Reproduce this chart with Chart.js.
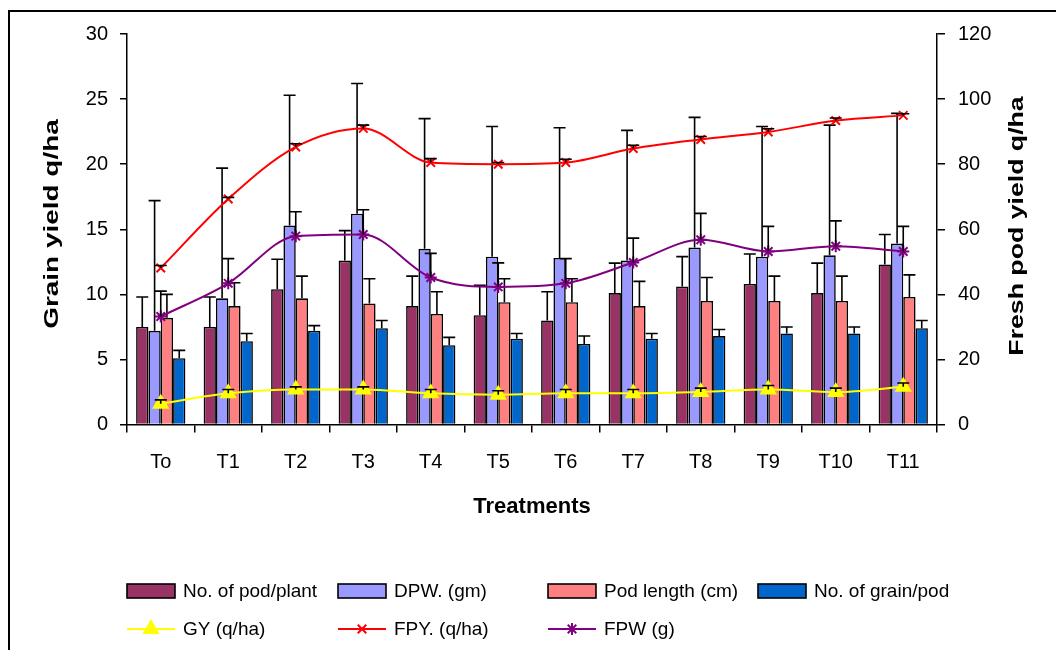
<!DOCTYPE html>
<html>
<head>
<meta charset="utf-8">
<script src="https://cdn.jsdelivr.net/npm/chart.js@4.4.0/dist/chart.umd.min.js"></script>
<style>
  html, body { margin: 0; padding: 0; background: #fff; }
  #wrap { position: relative; width: 1056px; height: 650px; overflow: hidden; }
  #frame { position: absolute; left: 8px; top: 10px; width: 1100px; height: 700px;
           border-left: 2px solid #000; border-top: 2px solid #000; }
  canvas { position: absolute; left: 0; top: 0; }
</style>
</head>
<body>
<div id="wrap"><div id="frame"></div><canvas id="chart" width="1056" height="650"></canvas></div>
<script>
// treatments
const categories = ['To', 'T1', 'T2', 'T3', 'T4', 'T5', 'T6', 'T7', 'T8', 'T9', 'T10', 'T11'];

// bars, left axis
const podPerPlant    = [7.5, 7.5, 10.4, 12.6, 9.1, 8.4, 8.0, 10.1, 10.6, 10.8, 10.1, 12.3];
const podPerPlantErr = [2.3, 2.3, 2.3, 2.3, 2.3, 2.3, 2.2, 2.3, 2.3, 2.3, 2.3, 2.3];
const dpw            = [7.2, 9.7, 15.3, 16.2, 13.5, 12.9, 12.8, 12.6, 13.6, 12.9, 13.0, 13.9];
const dpwErr         = [10.0, 10.0, 10.0, 10.0, 10.0, 10.0, 10.0, 10.0, 10.0, 10.0, 10.0, 10.0];
const podLength      = [8.2, 9.1, 9.7, 9.3, 8.5, 9.4, 9.4, 9.1, 9.5, 9.5, 9.5, 9.8];
const podLengthErr   = [1.8, 1.8, 1.7, 1.9, 1.7, 1.8, 1.8, 1.9, 1.8, 1.9, 1.9, 1.7];
const grainPerPod    = [5.1, 6.4, 7.2, 7.4, 6.1, 6.6, 6.2, 6.6, 6.8, 7.0, 7.0, 7.4];
const grainPerPodErr = [0.6, 0.6, 0.4, 0.6, 0.6, 0.4, 0.6, 0.4, 0.5, 0.5, 0.5, 0.6];

// lines
const gy     = [1.6, 2.4, 2.7, 2.7, 2.4, 2.3, 2.4, 2.4, 2.5, 2.7, 2.5, 2.9];        // left axis
const gyErr  = [0.3, 0.3, 0.2, 0.2, 0.3, 0.3, 0.3, 0.3, 0.3, 0.3, 0.3, 0.3];
const fpy    = [48.1, 69.3, 85.3, 91.0, 80.5, 80.0, 80.5, 84.8, 87.6, 89.9, 93.4, 95.0]; // right axis
const fpyErr = [0.8, 0.5, 1.0, 1.0, 1.2, 0.5, 1.0, 1.0, 0.9, 1.0, 0.8, 0.5];
const fpw    = [33.2, 43.4, 57.9, 58.4, 45.2, 42.3, 43.4, 49.8, 56.8, 53.2, 54.8, 53.2]; // right axis
const fpwErr = [7.8, 7.6, 7.5, 7.6, 7.4, 7.4, 7.6, 7.5, 8.1, 7.7, 7.8, 7.7];

const FONT = '"Liberation Sans", Arial, sans-serif';
Chart.defaults.font.family = FONT;
Chart.defaults.color = '#000';

// draws + error bars for any dataset that carries an "errors" array
const errorBars = {
  id: 'errorBars',
  afterDatasetDraw(chart, args) {
    const ds = chart.data.datasets[args.index];
    if (!ds.errors) return;
    const meta = args.meta;
    const scale = chart.scales[meta.yAxisID];
    const ctx = chart.ctx;
    ctx.save();
    ctx.strokeStyle = '#000';
    ctx.lineWidth = 1.6;
    meta.data.forEach((el, i) => {
      const top = scale.getPixelForValue(ds.data[i] + ds.errors[i]);
      ctx.beginPath();
      ctx.moveTo(el.x, el.y);
      ctx.lineTo(el.x, top);
      ctx.moveTo(el.x - 6, top);
      ctx.lineTo(el.x + 6, top);
      ctx.stroke();
    });
    ctx.restore();
  }
};

// vertical axis titles (both read bottom to top) and the two-row legend
const extras = {
  id: 'extras',
  afterDraw(chart) {
    const ctx = chart.ctx;
    const vTitle = (text, x, y, stretch) => {
      ctx.save();
      ctx.translate(x, y);
      ctx.rotate(-Math.PI / 2);
      ctx.scale(stretch, 1);
      ctx.font = 'bold 21px ' + FONT;
      ctx.fillStyle = '#000';
      ctx.textAlign = 'center';
      ctx.textBaseline = 'middle';
      ctx.fillText(text, 0, 0);
      ctx.restore();
    };
    vTitle('Grain yield q/ha', 52, 224, 1.33);
    vTitle('Fresh pod yield q/ha', 1017, 226, 1.27);

    const cols = [127, 338, 548, 758];
    const rows = [591, 629];
    let bi = 0, li = 0;
    ctx.save();
    ctx.font = '19px ' + FONT;
    ctx.textBaseline = 'middle';
    chart.data.datasets.forEach(ds => {
      let x, y;
      if (ds.type === 'line') {
        x = cols[li++]; y = rows[1];
        ctx.strokeStyle = ds.borderColor;
        ctx.lineWidth = 2;
        ctx.beginPath();
        ctx.moveTo(x, y);
        ctx.lineTo(x + 48, y);
        ctx.stroke();
        ctx.fillStyle = ds.pointBackgroundColor;
        ctx.strokeStyle = ds.pointBorderColor;
        ctx.lineWidth = 2;
        Chart.helpers.drawPoint(ctx, { pointStyle: ds.pointStyle, radius: ds.pointRadius, rotation: 0, borderWidth: 2 }, x + 24, y);
      } else {
        x = cols[bi++]; y = rows[0];
        ctx.fillStyle = ds.backgroundColor;
        ctx.fillRect(x, y - 7, 48, 14);
        ctx.strokeStyle = '#000';
        ctx.lineWidth = 1.6;
        ctx.strokeRect(x, y - 7, 48, 14);
      }
      ctx.fillStyle = '#000';
      ctx.fillText(ds.label, x + 56, y + 1);
    });
    ctx.restore();
  }
};

const barSet = (label, data, errors, color) => ({
  type: 'bar', label, data, errors, yAxisID: 'y', order: 1,
  backgroundColor: color, borderColor: '#000', borderWidth: 1.6,
  categoryPercentage: 0.73, barPercentage: 1.0
});
const lineSet = (label, data, errors, color, axis, style, radius) => ({
  type: 'line', label, data, errors, yAxisID: axis, order: 0,
  borderColor: color, borderWidth: 2, cubicInterpolationMode: 'monotone',
  pointStyle: style, pointRadius: radius, pointBorderWidth: 2,
  pointBackgroundColor: color, pointBorderColor: color
});

new Chart(document.getElementById('chart'), {
  type: 'bar',
  data: {
    labels: categories,
    datasets: [
      barSet('No. of pod/plant', podPerPlant, podPerPlantErr, '#993366'),
      barSet('DPW. (gm)', dpw, dpwErr, '#9999FF'),
      barSet('Pod length (cm)', podLength, podLengthErr, '#FF8080'),
      barSet('No. of grain/pod', grainPerPod, grainPerPodErr, '#0066CC'),
      lineSet('GY (q/ha)', gy, gyErr, '#FFFF00', 'y', 'triangle', 8),
      lineSet('FPY. (q/ha)', fpy, fpyErr, '#FF0000', 'y1', 'crossRot', 6),
      lineSet('FPW (g)', fpw, fpwErr, '#800080', 'y1', 'star', 6)
    ]
  },
  options: {
    responsive: false,
    animation: false,
    layout: { padding: { left: 0, right: 0, top: 34, bottom: 126 } },
    plugins: { legend: { display: false }, tooltip: { enabled: false } },
    scales: {
      x: {
        grid: { drawOnChartArea: false, color: '#000', tickLength: 8, lineWidth: 1.5 },
        border: { color: '#000', width: 1.5 },
        ticks: { font: { size: 20 }, padding: 18, maxRotation: 0 },
        title: { display: true, text: 'Treatments', font: { size: 22, weight: 'bold' }, padding: { top: 1, bottom: 4 } }
      },
      y: {
        position: 'left', min: 0, max: 30,
        afterFit: s => { s.width = 127; },
        grid: { drawOnChartArea: false, color: '#000', tickLength: 7, lineWidth: 1.5 },
        border: { color: '#000', width: 1.5 },
        ticks: { stepSize: 5, font: { size: 20 }, padding: 12 }
      },
      y1: {
        position: 'right', min: 0, max: 120,
        afterFit: s => { s.width = 119; },
        grid: { drawOnChartArea: false, color: '#000', tickLength: 8, lineWidth: 1.5 },
        border: { color: '#000', width: 1.5 },
        ticks: { stepSize: 20, font: { size: 20 }, padding: 13 }
      }
    }
  },
  plugins: [errorBars, extras]
});
</script>
</body>
</html>
